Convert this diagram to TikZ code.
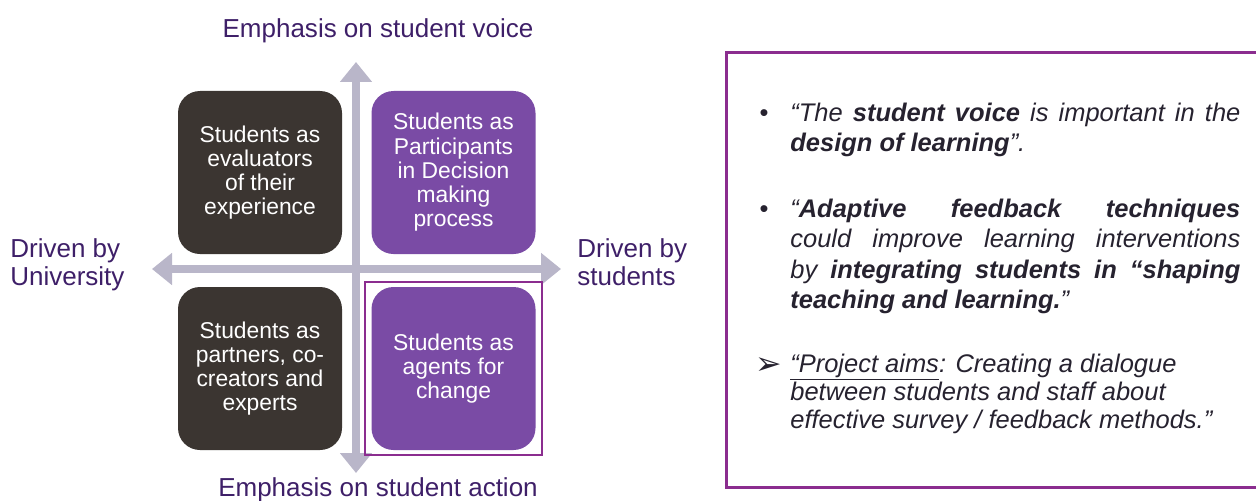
\documentclass[tikz,border=0pt]{standalone}
\usepackage{fontspec}
\setmainfont{Liberation Sans}
\newfontfamily\dejavu{DejaVu Sans}
\usetikzlibrary{arrows.meta}
\definecolor{darkbox}{HTML}{3B3531}
\definecolor{purplebox}{HTML}{7A4BA5}
\definecolor{axiscol}{HTML}{B9B6C9}
\definecolor{labelcol}{HTML}{3E1F68}
\definecolor{framecol}{HTML}{8B2D8F}
\definecolor{textcol}{HTML}{26222F}
\tikzset{
  quad/.style={rounded corners=22*0.02cm, minimum width=164*0.02cm, minimum height=163*0.02cm,
    text=white, align=center, font=\fontsize{13}{13.8}\selectfont, inner sep=0pt},
  darkq/.style={quad, fill=darkbox},
  purpq/.style={quad, fill=purplebox},
  axis/.style={draw=axiscol, line width=8*0.02cm,
    -{Triangle[width=31*0.02cm, length=20*0.02cm]}},
  axlabel/.style={text=labelcol, font=\fontsize{14.8}{16}\selectfont, inner sep=0pt},
  sidelabel/.style={text=labelcol, font=\fontsize{14.8}{15.9}\selectfont, inner sep=0pt, align=left},
  quote/.style={text=textcol, inner sep=0pt, anchor=north west}
}
\begin{document}
\begin{tikzpicture}[x=0.02cm, y=-0.02cm]
\useasboundingbox (0,0) rectangle (1256,500);
% axes
\coordinate (ctr) at (356,269);
\coordinate (topend) at (356,62);
\coordinate (botend) at (356,473);
\coordinate (leftend) at (152,269);
\coordinate (rightend) at (561,269);
\draw[axis] (ctr) -- (topend);
\draw[axis] (ctr) -- (botend);
\draw[axis] (ctr) -- (leftend);
\draw[axis] (ctr) -- (rightend);
% quadrant boxes
\node[darkq] (tl) at (260,172.5) {Students as\\evaluators\\of their\\experience};
\node[purpq] (tr) at (453.5,172.5) {Students as\\Participants\\in Decision\\making\\process};
\node[darkq] (bl) at (260,368.5) {Students as\\partners, co-\\creators and\\experts};
\node[purpq] (br) at (453.5,368.5) {Students as\\agents for\\change};
\node[draw=framecol, line width=2*0.02cm, minimum width=177*0.02cm, minimum height=173*0.02cm, inner sep=0pt] (hl) at (br) {};
% axis labels
\node[axlabel, anchor=base] (voice) at (378,38) {Emphasis on student voice};
\node[axlabel, anchor=base] (action) at (378,496) {Emphasis on student action};
\node[sidelabel, anchor=base west] (uni) at (10,285) {Driven by\\University};
\node[sidelabel, anchor=base west] (stu) at (577,285) {Driven by\\students};
% right frame
\draw[framecol, line width=3*0.02cm] (1262,53) -- (726,53) -- (726,487) -- (1262,487);
\node[text=textcol, anchor=base, font=\fontsize{14.5}{17.6}\selectfont] (b1) at (764,121) {•};
\node[text=textcol, anchor=base, font=\fontsize{14.5}{17.6}\selectfont] (b2) at (764,217) {•};
\node[text=textcol, anchor=base, font=\dejavu\fontsize{18}{18}\selectfont] (b3) at (769,374) {➢};
\node[quote, anchor=base west] (p1) at (790,121) {\parbox[t]{450\dimexpr0.02cm\relax}{\fontsize{14.5}{17.6}\selectfont\itshape
“The \textbf{student voice} is important in the \textbf{design of learning}”.}};
\node[quote, anchor=base west] (p2) at (790,217) {\parbox[t]{450\dimexpr0.02cm\relax}{\fontsize{14.5}{17.4}\selectfont\itshape\spaceskip=0.278em plus 5em minus 0.05em
“\textbf{Adaptive feedback techniques}\linebreak could improve learning interventions\linebreak by \textbf{integrating students in “shaping}\linebreak \textbf{teaching and learning.}”}};
\node[quote, anchor=base west] (p3) at (790,372) {\parbox[t]{450\dimexpr0.02cm\relax}{\raggedright\fontsize{14.5}{16.1}\selectfont\itshape
\underline{“Project aims}: Creating a dialogue\\ between students and staff about\\ effective survey / feedback methods.”}};
\end{tikzpicture}
\end{document}
